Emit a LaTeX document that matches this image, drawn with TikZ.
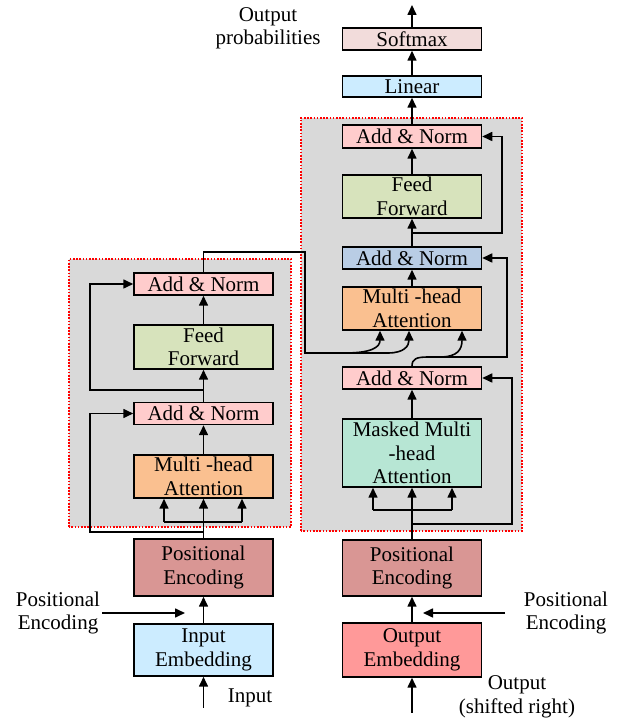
\documentclass[tikz,border=0pt]{standalone}
\usepackage{fontspec}
\setmainfont{Liberation Serif}
\usetikzlibrary{arrows.meta}

\definecolor{blockgray}{RGB}{217,217,217}
\definecolor{addnorm}{RGB}{255,204,204}
\definecolor{addblue}{RGB}{185,205,229}
\definecolor{ffwd}{RGB}{215,227,188}
\definecolor{attn}{RGB}{250,192,144}
\definecolor{masked}{RGB}{183,230,212}
\definecolor{posenc}{RGB}{217,150,148}
\definecolor{embin}{RGB}{204,236,255}
\definecolor{embout}{RGB}{255,153,153}
\definecolor{softm}{RGB}{242,220,219}

\tikzset{
  box/.style={draw, line width=1.5pt, minimum width=139pt, inner sep=0pt, align=center,
              font=\fontsize{21}{23.5}\selectfont},
  lbl/.style={align=center, inner sep=2pt, font=\fontsize{21}{23.5}\selectfont},
  arr/.style={-{Triangle[length=10pt,width=9pt]}, line width=1.6pt},
  ln/.style={line width=1.6pt},
  block/.style={fill=blockgray, draw=red, dash pattern=on 1.6pt off 1.6pt, line width=1.5pt}
}

\begin{document}
\begin{tikzpicture}[x=1pt, y=1pt]
\useasboundingbox (0,0) rectangle (618,721);

% Encoder and decoder blocks
\filldraw[block] (69,194) rectangle (291,462);
\filldraw[block] (301,190) rectangle (522,603);

% Encoder stack
\node[box, fill=embin,   minimum height=52pt] (InEmb)  at (203.5,71)    {Input\\Embedding};
\node[box, fill=posenc,  minimum height=57pt] (EncPE)  at (203.5,153.5) {Positional\\Encoding};
\node[box, fill=attn,    minimum height=43pt] (EncMHA) at (203.5,244.5) {Multi -head\\Attention};
\node[box, fill=addnorm, minimum height=22pt] (EncAN1) at (203.5,307.5) {Add \& Norm};
\node[box, fill=ffwd,    minimum height=44pt] (EncFF)  at (203.5,374)   {Feed\\Forward};
\node[box, fill=addnorm, minimum height=22pt] (EncAN2) at (203.5,437)   {Add \& Norm};

% Decoder stack
\node[box, fill=embout,  minimum height=54pt] (OutEmb)  at (412,71)    {Output\\Embedding};
\node[box, fill=posenc,  minimum height=56pt] (DecPE)   at (412,153)   {Positional\\Encoding};
\node[box, fill=masked,  minimum height=68pt] (DecMMHA) at (412,268)   {Masked Multi\\-head\\Attention};
\node[box, fill=addnorm, minimum height=22pt] (DecAN1)  at (412,343)   {Add \& Norm};
\node[box, fill=attn,    minimum height=43pt] (DecMHA)  at (412,412.5) {Multi -head\\Attention};
\node[box, fill=addblue, minimum height=22pt] (DecAN2)  at (412,463)   {Add \& Norm};
\node[box, fill=ffwd,    minimum height=43pt] (DecFF)   at (412,524.5) {Feed\\Forward};
\node[box, fill=addnorm, minimum height=23pt] (DecAN3)  at (412,584.5) {Add \& Norm};
\node[box, fill=embin,   minimum height=21pt] (Lin)     at (412,634.5) {Linear};
\node[box, fill=softm,   minimum height=22pt] (Soft)    at (412,682)   {Softmax};

% Free labels
\node[lbl] (OutProb) at (268,692.5) {Output\\probabilities};
\node[lbl] (InLbl)   at (250,23)    {Input};
\node[lbl] (OutLbl)  at (517,24)    {Output\\(shifted right)};
\node[lbl] (PEL)     at (58,108)    {Positional\\Encoding};
\node[lbl] (PER)     at (566,108)   {Positional\\Encoding};

% Free ends and bend points
\coordinate (InB)  at (203.5,13);
\coordinate (OutB) at (412,8);
\coordinate (Top)  at (412,716);
\coordinate (PELt) at (185,108);
\coordinate (PERs) at (505,108);
\coordinate (PERt) at (423,108);
\coordinate (EL)   at (164,199);
\coordinate (ER)   at (242,199);
\coordinate (DL)   at (373,211);
\coordinate (DR)   at (452,211);
\coordinate (ER1)  at (203.5,189);
\coordinate (ER2)  at (203.5,331);
\coordinate (DR0)  at (412,197);
\coordinate (DR1)  at (428,364);
\coordinate (DR2)  at (412,488);
\coordinate (EO)   at (305,368);
\coordinate (EH)   at (345,368);

% Straight arrows up the stacks
\foreach \a/\b in {InEmb/EncPE, EncPE/EncMHA, EncMHA/EncAN1, EncAN1/EncFF, EncFF/EncAN2,
                   OutEmb/DecPE, DecPE/DecMMHA, DecMMHA/DecAN1, DecMHA/DecAN2, DecAN2/DecFF,
                   DecFF/DecAN3, DecAN3/Lin, Lin/Soft} {
    \draw[arr] (\a.north) -- (\b.south);
}
\draw[arr] (Soft.north) -- (Top);
\draw[arr] (InB) -- (InEmb.south);
\draw[arr] (OutB) -- (OutEmb.south);

% Positional encoding inputs
\draw[arr] (PEL.east) -- (PELt);
\draw[arr] (PERs) -- (PERt);

% Attention forks
\draw[ln] (EL) -- (ER);
\draw[ln] (DL) -- (DR);
\foreach \c in {EL,ER} {
    \draw[arr] (\c) -- (\c |- EncMHA.south);
}
\foreach \c in {DL,DR} {
    \draw[arr] (\c) -- (\c |- DecMMHA.south);
}

% Residual connections
\draw[arr] (ER1) -- ++(-113.5,0) |- (EncAN1.west);
\draw[arr] (ER2) -- ++(-113.5,0) |- (EncAN2.west);
\draw[arr] (DR0) -- ++(100,0) |- (DecAN1.east);
\draw[arr] (DR1) -- ++(79,0) |- (DecAN2.east);
\draw[arr] (DR2) -- ++(90,0) |- (DecAN3.east);

% Encoder output into decoder attention
\draw[ln] (EncAN2.north) |- (305,469) -- (EO) -- (EH);
\draw[arr] (EH) .. controls (372,368) and (380,374) .. ([xshift=-32pt]DecMHA.south);
\draw[arr] (EH) -- (388,368) .. controls (404,368) and (409,375) .. ([xshift=-3pt]DecMHA.south);
\draw[arr] (DecAN1.north) .. controls (412,362) and (416,364) .. (DR1) -- (440,364)
    .. controls (458,364) and (462,372) .. ([xshift=50pt]DecMHA.south);
\end{tikzpicture}
\end{document}
